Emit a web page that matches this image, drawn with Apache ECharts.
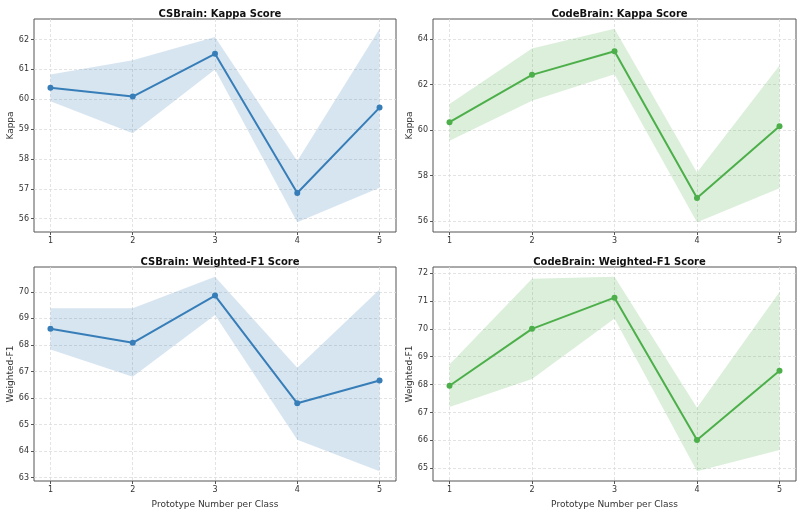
<!DOCTYPE html>
<html>
<head>
<meta charset="utf-8">
<script src="https://cdn.jsdelivr.net/npm/echarts@6/dist/echarts.min.js"></script>
<style>
  html, body { margin: 0; padding: 0; background: #fff; }
  #main { width: 802px; height: 513px; }
</style>
</head>
<body>
<div id="main"></div>
<script>
// prototype numbers per class
const protoNums = [1, 2, 3, 4, 5]
const xTicks = [1, 2, 3, 4, 5]

// CSBrain
const csKappaMean = [60.38, 60.09, 61.52, 56.86, 59.72]
const csKappaUpper = [60.83, 61.30, 62.08, 57.93, 62.36]
const csKappaLower = [59.93, 58.86, 60.99, 55.88, 57.04]
const csF1Mean = [68.61, 68.08, 69.86, 65.80, 66.66]
const csF1Upper = [69.38, 69.38, 70.57, 67.14, 70.09]
const csF1Lower = [67.83, 66.80, 69.13, 64.43, 63.24]

// CodeBrain
const cbKappaMean = [60.34, 62.42, 63.46, 57.01, 60.16]
const cbKappaUpper = [61.14, 63.58, 64.45, 58.13, 62.83]
const cbKappaLower = [59.53, 61.28, 62.45, 55.94, 57.44]
const cbF1Mean = [67.96, 70.00, 71.12, 66.01, 68.50]
const cbF1Upper = [68.72, 71.80, 71.87, 67.17, 71.32]
const cbF1Lower = [67.20, 68.20, 70.37, 64.89, 65.65]

// y tick labels
const csKappaTicks = [56, 57, 58, 59, 60, 61, 62]
const cbKappaTicks = [56, 58, 60, 62, 64]
const csF1Ticks = [63, 64, 65, 66, 67, 68, 69, 70]
const cbF1Ticks = [65, 66, 67, 68, 69, 70, 71, 72]

const BLUE = '#377eb8'
const GREEN = '#4daf4a'
const FONT = 'DejaVu Sans'

const panels = [
  { title: 'CSBrain: Kappa Score', yName: 'Kappa', mean: csKappaMean, up: csKappaUpper, lo: csKappaLower, ticks: csKappaTicks, color: BLUE, fill: 'rgba(55,126,184,0.2)', box: { left: 34, top: 19, width: 362, height: 213 } },
  { title: 'CodeBrain: Kappa Score', yName: 'Kappa', mean: cbKappaMean, up: cbKappaUpper, lo: cbKappaLower, ticks: cbKappaTicks, color: GREEN, fill: 'rgba(77,175,74,0.2)', box: { left: 433, top: 19, width: 363, height: 213 } },
  { title: 'CSBrain: Weighted-F1 Score', yName: 'Weighted-F1', mean: csF1Mean, up: csF1Upper, lo: csF1Lower, ticks: csF1Ticks, color: BLUE, fill: 'rgba(55,126,184,0.2)', xName: true, box: { left: 34, top: 267, width: 362, height: 214 } },
  { title: 'CodeBrain: Weighted-F1 Score', yName: 'Weighted-F1', mean: cbF1Mean, up: cbF1Upper, lo: cbF1Lower, ticks: cbF1Ticks, color: GREEN, fill: 'rgba(77,175,74,0.2)', xName: true, box: { left: 433, top: 267, width: 363, height: 214 } }
]

const grid = []
const xAxis = []
const yAxis = []
const series = []
const title = []
const gridLine = { show: true, lineStyle: { color: '#dcdcdc', type: [3, 2], width: 0.8 } }

panels.forEach((p, i) => {
  const lo = Math.min(...p.lo)
  const hi = Math.max(...p.up)
  const pad = (hi - lo) * 0.05
  grid.push(Object.assign({ show: true, borderColor: '#555', borderWidth: 1, backgroundColor: 'transparent' }, p.box))
  title.push({
    text: p.title,
    left: p.box.left + p.box.width / 2,
    textAlign: 'center',
    top: p.box.top - 15,
    textStyle: { fontFamily: FONT, fontSize: 10, fontWeight: 'bold', color: '#111' }
  })
  xAxis.push({
    type: 'value',
    gridIndex: i,
    min: 0.8,
    max: 5.2,
    name: p.xName ? 'Prototype Number per Class' : '',
    nameLocation: 'middle',
    nameGap: 19,
    nameTextStyle: { fontFamily: FONT, fontSize: 9, color: '#333' },
    axisLine: { show: false },
    axisTick: { show: true, customValues: xTicks, length: 3, lineStyle: { color: '#555' } },
    axisLabel: { customValues: xTicks, fontFamily: FONT, fontSize: 8, color: '#333', margin: 5 },
    splitLine: gridLine
  })
  yAxis.push({
    type: 'value',
    gridIndex: i,
    min: lo - pad,
    max: hi + pad,
    name: p.yName,
    nameLocation: 'middle',
    nameGap: 17,
    nameTextStyle: { fontFamily: FONT, fontSize: 9, color: '#333' },
    axisLine: { show: false },
    axisTick: { show: true, customValues: p.ticks, length: 3, lineStyle: { color: '#555' } },
    axisLabel: { customValues: p.ticks, fontFamily: FONT, fontSize: 8, color: '#333', margin: 5 },
    splitLine: gridLine
  })
  // shaded band between lower and upper, placed through the axis scales
  series.push({
    type: 'custom', xAxisIndex: i, yAxisIndex: i, silent: true, z: 1,
    data: [[protoNums[0], p.lo[0]]],
    renderItem: (params, api) => {
      const pts = []
      protoNums.forEach((x, k) => pts.push(api.coord([x, p.up[k]])))
      for (let k = protoNums.length - 1; k >= 0; k--) pts.push(api.coord([protoNums[k], p.lo[k]]))
      return { type: 'polygon', shape: { points: pts }, style: { fill: p.fill } }
    }
  })
  series.push({
    type: 'line', xAxisIndex: i, yAxisIndex: i,
    data: protoNums.map((x, k) => [x, p.mean[k]]),
    symbol: 'circle', symbolSize: 6, showSymbol: true,
    lineStyle: { color: p.color, width: 2 },
    itemStyle: { color: p.color },
    z: 3
  })
})

const chart = echarts.init(document.getElementById('main'))
chart.setOption({
  animation: false,
  backgroundColor: '#fff',
  title: title,
  grid: grid,
  xAxis: xAxis,
  yAxis: yAxis,
  series: series
})
</script>
</body>
</html>
